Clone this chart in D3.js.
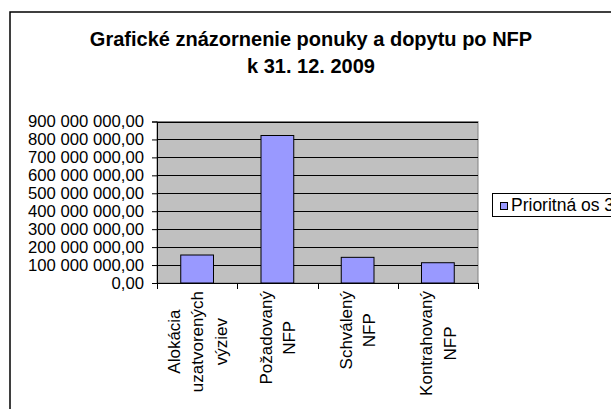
<!DOCTYPE html>
<html lang="sk">
<head>
<meta charset="UTF-8">
<title>Grafické znázornenie ponuky a dopytu po NFP</title>
<script src="https://d3js.org/d3.v7.min.js"></script>
<style>
 body {
   margin: 0;
   background: #fff;
   font-family: "Liberation Sans", Arial, sans-serif;
 }
 svg text {
   fill: #000;
 }
</style>
</head>
<body>
<div id="chart"></div>
<script>
// chart data
const categories = [
  ["Alokácia", "uzatvorených", "výziev"],
  ["Požadovaný", "NFP"],
  ["Schválený", "NFP"],
  ["Kontrahovaný", "NFP"]
];
const values = [156000000, 822000000, 143000000, 113000000];
const yTicks = [0, 100000000, 200000000, 300000000, 400000000, 500000000,
  600000000, 700000000, 800000000, 900000000];
const seriesName = "Prioritná os 3";
const titleLines = ["Grafické znázornenie ponuky a dopytu po NFP", "k 31. 12. 2009"];

const width = 611;
const height = 409;
const plot = { left: 157, right: 478, top: 121.5, bottom: 283 };
const barColor = "#9999ff";
const fontSize = 16.7;

const svg = d3.select('#chart').append('svg')
  .attr('width', width)
  .attr('height', height);

// outer chart border (runs off the right and bottom)
svg.append('rect')
  .attr('x', 10)
  .attr('y', 12)
  .attr('width', 700)
  .attr('height', 500)
  .attr('fill', 'none')
  .attr('stroke', '#000')
  .attr('stroke-width', 1.5);

// title
svg.append('g').selectAll('text')
  .data(titleLines)
  .enter()
  .append('text')
  .attr('x', 311)
  .attr('y', (d, i) => 46 + i * 27)
  .attr('text-anchor', 'middle')
  .attr('font-size', 20)
  .attr('font-weight', 'bold')
  .text(d => d);

const x = d3.scaleBand()
  .domain(d3.range(categories.length))
  .range([plot.left, plot.right]);

const y = d3.scaleLinear()
  .domain([0, d3.max(yTicks)])
  .range([plot.bottom, plot.top]);

const sk = d3.formatLocale({ decimal: ",", thousands: " ", grouping: [3], currency: ["", ""] });
const fmt = sk.format(",.2f");

// plot background
svg.append('rect')
  .attr('x', plot.left)
  .attr('y', plot.top)
  .attr('width', plot.right - plot.left)
  .attr('height', plot.bottom - plot.top)
  .attr('fill', '#c0c0c0')
  .attr('stroke', '#808080')
  .attr('stroke-width', 1);

// gridlines
svg.append('g').selectAll('line')
  .data(yTicks.filter(t => t > 0))
  .enter()
  .append('line')
  .attr('x1', plot.left)
  .attr('x2', plot.right)
  .attr('y1', d => Math.round(y(d)) + 0.5)
  .attr('y2', d => Math.round(y(d)) + 0.5)
  .attr('stroke', '#000')
  .attr('stroke-width', 1);

// bars
const barW = x.bandwidth() / 2.45;
svg.append('g').selectAll('rect')
  .data(values)
  .enter()
  .append('rect')
  .attr('x', (d, i) => x(i) + (x.bandwidth() - barW) / 2)
  .attr('y', d => y(d))
  .attr('width', barW)
  .attr('height', d => y(0) - y(d))
  .attr('fill', barColor)
  .attr('stroke', '#000')
  .attr('stroke-width', 1);

// y axis
const yAxis = svg.append('g')
  .attr('transform', `translate(${plot.left},0)`)
  .call(d3.axisLeft(y).tickValues(yTicks).tickFormat(fmt).tickSize(5).tickPadding(8));
yAxis.selectAll('text')
  .attr('font-size', fontSize)
  .attr('font-family', '"Liberation Sans", Arial, sans-serif');
yAxis.selectAll('line, path').attr('stroke', '#000');

// x axis with ticks on category boundaries
const xg = svg.append('g');
xg.append('line')
  .attr('x1', plot.left)
  .attr('x2', plot.right)
  .attr('y1', plot.bottom + 0.5)
  .attr('y2', plot.bottom + 0.5)
  .attr('stroke', '#000');
const edges = d3.range(categories.length).map(i => x(i)).concat([plot.right]);
xg.selectAll('.xt')
  .data(edges)
  .enter()
  .append('line')
  .attr('x1', d => Math.round(d) + 0.5)
  .attr('x2', d => Math.round(d) + 0.5)
  .attr('y1', plot.bottom)
  .attr('y2', plot.bottom + 6)
  .attr('stroke', '#000');

// category labels, rotated, lines centred on the longest one
const lineGap = 23.5;
const labels = xg.selectAll('.cat')
  .data(categories)
  .enter()
  .append('g');
labels.each(function(lines, i) {
  const g = d3.select(this);
  const t = g.selectAll('text')
    .data(lines)
    .enter()
    .append('text')
    .attr('font-size', 17)
    .attr('text-anchor', 'middle')
    .text(d => d);
  let maxLen = 0;
  t.each(function() { maxLen = Math.max(maxLen, this.getComputedTextLength()); });
  const cx = x(i) + x.bandwidth() / 2;
  const cy = plot.bottom + 8 + maxLen / 2;
  t.attr('transform', (d, j) => {
    const lx = cx + (j - (lines.length - 1) / 2) * lineGap + 6;
    return `translate(${lx},${cy}) rotate(-90)`;
  });
});

// legend
const lg = svg.append('g');
lg.append('rect')
  .attr('x', 492.5)
  .attr('y', 193.5)
  .attr('width', 200)
  .attr('height', 23)
  .attr('fill', '#fff')
  .attr('stroke', '#000');
lg.append('rect')
  .attr('x', 500.5)
  .attr('y', 202.5)
  .attr('width', 7)
  .attr('height', 7)
  .attr('fill', barColor)
  .attr('stroke', '#000');
lg.append('text')
  .attr('x', 511)
  .attr('y', 210.5)
  .attr('font-size', 17.5)
  .text(seriesName);
</script>
</body>
</html>
